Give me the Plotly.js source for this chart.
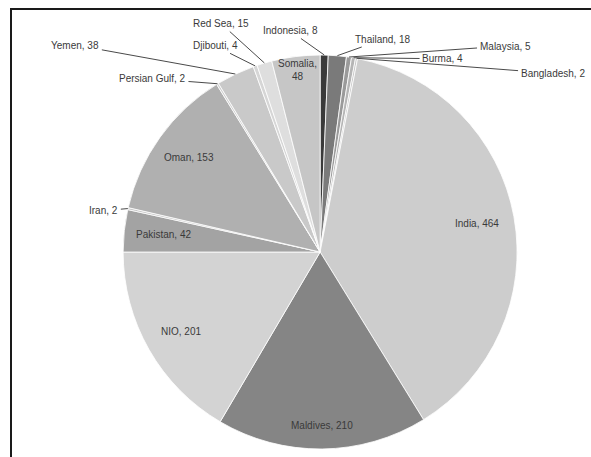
<!DOCTYPE html>
<html>
<head>
<meta charset="utf-8">
<script src="https://cdn.plot.ly/plotly-3.0.1.min.js"></script>
<style>html,body{margin:0;padding:0;background:#fff;}#chart{width:591px;height:457px;}</style>
</head>
<body>
<div id="chart"></div>
<script>
// ---- data ----
var labels = ["Indonesia","Thailand","Malaysia","Burma","Bangladesh","India","Maldives","NIO","Pakistan","Iran","Oman","Persian Gulf","Yemen","Djibouti","Red Sea","Somalia"];
var values = [8,18,5,4,2,464,210,201,42,2,153,2,38,4,15,48];

// ---- styling ----
var sliceColors = ["#3a3a3a","#7a7a7a","#9a9a9a","#b5b5b5","#c5c5c5","#cdcdcd","#858585","#d3d3d3","#a3a3a3","#c6c6c6","#b0b0b0","#cfcfcf","#c9c9c9","#d6d6d6","#dedede","#c6c6c6"];
// inside labels: fraction of radius at which the label sits
var insideRadius = {"India":0.81,"Maldives":0.88,"NIO":0.81,"Pakistan":0.80,"Oman":0.82,"Somalia":0.93};
var labelBreak = {"Somalia": true};
// outside labels: pixel offset of the text from the slice edge it points to
var outsideOffset = {
  "Indonesia":[-34,-24], "Thailand":[45,-16], "Malaysia":[156,-11], "Burma":[89,1],
  "Bangladesh":[196,15], "Iran":[-24,2], "Persian Gulf":[-65,-5], "Yemen":[-160,-29],
  "Djibouti":[-40,-20], "Red Sea":[-43,-39]
};

var W = 591, H = 457;
var dom = {x: [0.2081, 0.8752], y: [0.0175, 0.8796]};
var cx = (dom.x[0] + dom.x[1]) / 2 * W;
var cy = (1 - (dom.y[0] + dom.y[1]) / 2) * H;
var R = (dom.x[1] - dom.x[0]) * W / 2;
var font = {family: "Liberation Sans, Arial, sans-serif", size: 10, color: "#3a3a3a"};

var total = values.reduce(function(a, b){ return a + b; }, 0);
var annotations = [];
var cum = 0;
for (var i = 0; i < labels.length; i++) {
  var mid = (cum + values[i] / 2) / total * 2 * Math.PI;
  cum += values[i];
  var sx = Math.sin(mid), sy = -Math.cos(mid);
  var txt = labels[i] + (labelBreak[labels[i]] ? ",<br>" : ", ") + values[i];
  if (insideRadius[labels[i]] !== undefined) {
    var f = insideRadius[labels[i]];
    annotations.push({
      xref: "paper", yref: "paper",
      x: (cx + sx * R * f) / W, y: 1 - (cy + sy * R * f) / H,
      xanchor: "center", yanchor: "middle",
      text: txt, showarrow: false, font: font, align: "center"
    });
  } else {
    var off = outsideOffset[labels[i]];
    annotations.push({
      xref: "paper", yref: "paper",
      x: (cx + sx * R) / W, y: 1 - (cy + sy * R) / H,
      ax: off[0], ay: off[1],
      text: txt, showarrow: true, arrowhead: 0, arrowwidth: 1,
      arrowcolor: "#4a4a4a", standoff: 0, startstandoff: 1, font: font
    });
  }
}

var trace = {
  type: "pie",
  labels: labels,
  values: values,
  sort: false,
  direction: "clockwise",
  rotation: 0,
  marker: {colors: sliceColors, line: {color: "#ffffff", width: 0.8}},
  textinfo: "none",
  domain: dom,
  showlegend: false,
  hoverinfo: "label+value"
};

var layout = {
  width: W,
  height: H,
  margin: {l: 0, r: 0, t: 0, b: 0},
  paper_bgcolor: "#ffffff",
  showlegend: false,
  annotations: annotations,
  shapes: [{
    type: "rect", xref: "paper", yref: "paper",
    x0: 11/W, x1: 1.05, y0: -0.05, y1: 1 - 9/H,
    line: {color: "#1a1a1a", width: 2}
  }]
};

Plotly.newPlot("chart", [trace], layout, {displayModeBar: false, staticPlot: true});
</script>
</body>
</html>
